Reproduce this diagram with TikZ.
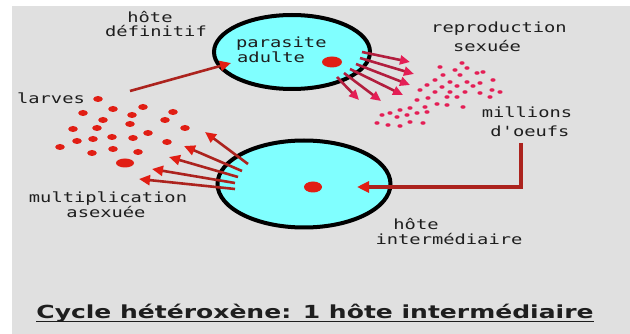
\documentclass[tikz,border=0pt]{standalone}
\usepackage{fontspec}
\newfontfamily\lblfont[FakeStretch=1.34]{DejaVu Sans Mono}
\newfontfamily\ttlfont[FakeStretch=1.39]{DejaVu Sans}
\usetikzlibrary{shapes.geometric,arrows.meta}
\definecolor{bggray}{RGB}{224,224,224}
\definecolor{cyanfill}{RGB}{128,255,255}
\definecolor{dotred}{RGB}{225,30,20}
\definecolor{eggred}{RGB}{228,30,85}
\definecolor{shaftred}{RGB}{172,35,30}
\definecolor{shaftcrim}{RGB}{178,30,62}
\definecolor{txt}{RGB}{30,30,30}
\begin{document}
\begin{tikzpicture}[x=1pt,y=-1pt,
  host/.style={ellipse, draw=black, line width=4pt, fill=cyanfill, inner sep=0pt},
  lbl/.style={font=\lblfont\fontsize{14}{16}\selectfont, text=txt, inner sep=0pt, anchor=base},
  lblw/.style={lbl, anchor=base west},
  marr/.style={draw=shaftred, line width=2.6pt, -{Triangle[length=11pt,width=10pt,color=dotred]}},
  rarr/.style={draw=shaftcrim, line width=2.6pt, -{Triangle[length=10pt,width=9pt,color=eggred]}},
  larr/.style={draw=shaftred, line width=3.2pt, -{Triangle[length=12pt,width=11pt,color=dotred]}}
]
\useasboundingbox (0,0) rectangle (630,334);
\fill[white] (0,0) rectangle (630,334);
\fill[bggray] (12,6) rectangle (630,334);

% hosts
\node[host, minimum width=156pt, minimum height=74pt] (top) at (292,52) {};
\node[host, minimum width=173pt, minimum height=87pt] (bot) at (304,184) {};

% parasite dots
\fill[dotred] (332,62) ellipse [x radius=10pt, y radius=5.5pt];
\fill[dotred] (313,187) ellipse [x radius=9pt, y radius=5.5pt];

% texts
\node[lbl] (hd1) at (150,23) {hôte};
\node[lbl] (hd2) at (156,37) {définitif};
\node[lblw] (pa1) at (236,48) {parasite};
\node[lblw] (pa2) at (237,63) {adulte};
\node[lbl] (lar) at (51,104) {larves};
\node[lbl] (rep1) at (499,33) {reproduction};
\node[lbl] (rep2) at (487,52) {sexuée};
\node[lbl] (mil1) at (527,118) {millions};
\node[lbl] (mil2) at (530,137) {d'oeufs};
\node[lbl] (mul1) at (108,203) {multiplication};
\node[lbl] (mul2) at (106,218) {asexuée};
\node[lbl] (hi1) at (416,230) {hôte};
\node[lbl] (hi2) at (449,245) {intermédiaire};
\node[font=\ttlfont\bfseries\fontsize{18}{20}\selectfont, text=txt, inner sep=0pt, anchor=base] (title) at (315,318) {Cycle hétéroxène: 1 hôte intermédiaire};
\draw[txt, line width=1.3pt] ([yshift=-3.5pt]title.base west) -- ([yshift=-3.5pt]title.base east);

% larvae
\foreach \x/\y in {98/99, 83/113, 113/109, 143/107, 132/115, 173/112, 103/120, 130/124, 165/120,
  73/129, 97/128, 185/128, 148/133, 112/137, 93/139, 77/141, 133/138, 167/142, 60/147, 92/153,
  113/149, 138/152}
  \fill[dotred] (\x,\y) ellipse [x radius=4.8pt, y radius=3pt];
\fill[dotred] (125,163) ellipse [x radius=9pt, y radius=4.5pt];

% eggs
\foreach \x/\y in {462/63, 440/67, 455/70, 467/68, 443/75, 460/75, 477/73, 483/72, 493/80, 435/80,
  450/82, 467/82, 480/83, 427/85, 442/87, 457/86, 473/86, 492/90, 500/92, 420/90, 435/92, 450/92,
  465/92, 480/93, 490/97, 417/100, 428/98, 447/97, 457/97, 437/104, 425/107, 447/105, 463/107,
  410/108, 400/110, 390/113, 382/115, 397/117, 407/115, 417/113, 427/112, 377/123, 388/125,
  400/126, 410/122, 423/123}
  \fill[eggred] (\x,\y) ellipse [x radius=2.6pt, y radius=1.8pt];

% larvae -> adult
\coordinate (la) at (130,91);
\coordinate (lb) at (231,63);
\draw[marr] (la) -- (lb);

% multiplication arrows
\foreach \i/\ax/\ay/\bx/\by in {1/248/164/205/132, 2/242/171/184/146, 3/238/177/169/157,
  4/235/183/152/169, 5/235/189/139/179}{
  \coordinate (mt\i) at (\ax,\ay);
  \coordinate (mh\i) at (\bx,\by);
  \draw[marr] (mt\i) -- (mh\i);
}

% reproduction arrows
\foreach \i/\ax/\ay/\bx/\by in {1/362/52/410/62, 2/360/58/414/74, 3/356/64/410/85,
  4/350/69/403/95, 5/344/73/381/101, 6/337/77/359/100}{
  \coordinate (rt\i) at (\ax,\ay);
  \coordinate (rh\i) at (\bx,\by);
  \draw[rarr] (rt\i) -- (rh\i);
}

% eggs -> intermediate host
\coordinate (eg) at (521,143);
\coordinate (ih) at (357,187);
\draw[larr] (eg) |- (ih);
\end{tikzpicture}
\end{document}
